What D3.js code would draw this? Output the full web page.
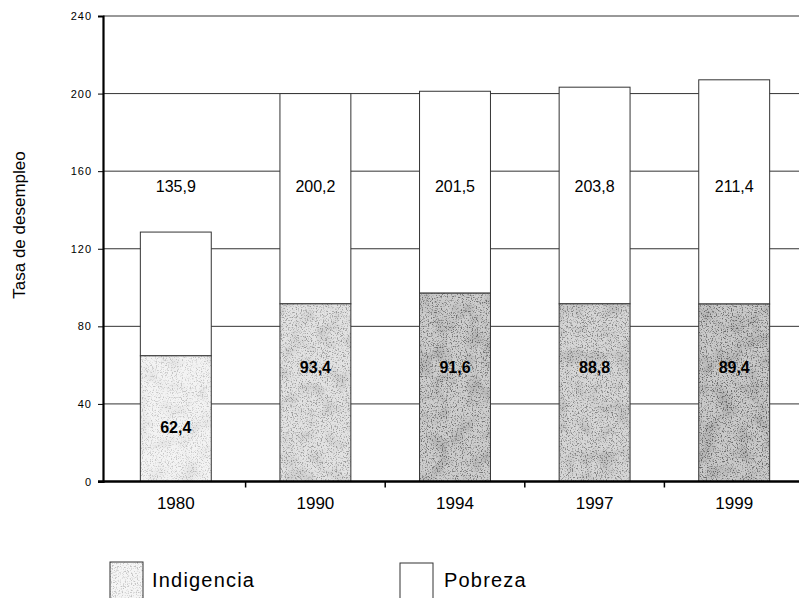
<!DOCTYPE html>
<html>
<head>
<meta charset="utf-8">
<script src="https://cdn.jsdelivr.net/npm/d3@7"></script>
<style>
  html, body { margin: 0; padding: 0; background: #fff; }
  svg { display: block; font-family: "Liberation Sans", Arial, Helvetica, sans-serif; }
</style>
</head>
<body>
<svg id="chart" width="799" height="598"></svg>
<script>
// ---- data ----
const years = ["1980", "1990", "1994", "1997", "1999"];
const indigencia = [64.8, 91.6, 97.1, 91.6, 91.5];      // bar segment heights
const pobreza = [63.8, 108.4, 104.1, 111.7, 115.6];      // upper segment heights
const indigenciaLabels = ["62,4", "93,4", "91,6", "88,8", "89,4"];
const pobrezaLabels = ["135,9", "200,2", "201,5", "203,8", "211,4"];
const yTicks = [0, 40, 80, 120, 160, 200, 240];
const seriesNames = ["Indigencia", "Pobreza"];

// ---- styles ----
const indigBase = ["#f3f3f3", "#e2e2e2", "#cdcdcd", "#d6d6d6", "#c9c9c9"];
const indigDots = [0.35, 0.6, 0.85, 0.75, 0.9];

const svg = d3.select("#chart");
const W = 799;
const axisX = 103, y0px = 481.5, ytop = 16;

const y = d3.scaleLinear().domain([0, 240]).range([y0px, ytop]);
const x = d3.scaleBand().domain(years).range([106, 804]).padding(0);
const barW = x.bandwidth() * 0.508;
const bx = d => x(d) + (x.bandwidth() - barW) / 2;

// defs: stipple filter
const defs = svg.append("defs");
const f = defs.append("filter").attr("id", "stipple")
  .attr("x", 0).attr("y", 0).attr("width", 1).attr("height", 1);
f.append("feTurbulence").attr("type", "fractalNoise").attr("baseFrequency", 0.8)
  .attr("numOctaves", 2).attr("seed", 4).attr("result", "noise");
f.append("feColorMatrix").attr("in", "noise").attr("type", "matrix")
  .attr("values", "0 0 0 0 0  0 0 0 0 0  0 0 0 0 0  5 0 0 0 -2.6").attr("result", "dots");
f.append("feComposite").attr("in", "dots").attr("in2", "SourceGraphic").attr("operator", "in");

const f2 = defs.append("filter").attr("id", "blotch")
  .attr("x", 0).attr("y", 0).attr("width", 1).attr("height", 1);
f2.append("feTurbulence").attr("type", "fractalNoise").attr("baseFrequency", 0.06)
  .attr("numOctaves", 2).attr("seed", 9).attr("result", "noise");
f2.append("feColorMatrix").attr("in", "noise").attr("type", "matrix")
  .attr("values", "0 0 0 0 0  0 0 0 0 0  0 0 0 0 0  2.2 0 0 0 -1.0").attr("result", "b");
f2.append("feComposite").attr("in", "b").attr("in2", "SourceGraphic").attr("operator", "in");

// gridlines
svg.append("g").selectAll("line").data(yTicks.filter(t => t > 0)).join("line")
  .attr("x1", axisX).attr("x2", W)
  .attr("y1", d => y(d)).attr("y2", d => y(d))
  .attr("stroke", "#333").attr("stroke-width", 1);

// stacked data
const rows = years.map((yr, i) => ({ year: yr, Indigencia: indigencia[i], Pobreza: pobreza[i], i }));
const stack = d3.stack().keys(seriesNames)(rows);

const gBars = svg.append("g");
// Pobreza (white)
gBars.selectAll("rect.pob").data(stack[1]).join("rect").attr("class", "pob")
  .attr("x", d => bx(d.data.year)).attr("width", barW)
  .attr("y", d => y(d[1])).attr("height", d => y(d[0]) - y(d[1]))
  .attr("fill", "#fff").attr("stroke", "#333").attr("stroke-width", 1);
// Indigencia base
gBars.selectAll("rect.ind").data(stack[0]).join("rect").attr("class", "ind")
  .attr("x", d => bx(d.data.year)).attr("width", barW)
  .attr("y", d => y(d[1])).attr("height", d => y(d[0]) - y(d[1]))
  .attr("fill", d => indigBase[d.data.i]);
// blotches
gBars.selectAll("rect.blot").data(stack[0]).join("rect").attr("class", "blot")
  .attr("x", d => bx(d.data.year)).attr("width", barW)
  .attr("y", d => y(d[1])).attr("height", d => y(d[0]) - y(d[1]))
  .attr("fill", "#000").attr("opacity", d => indigDots[d.data.i] * 0.18)
  .attr("filter", "url(#blotch)");
// dots
gBars.selectAll("rect.dot").data(stack[0]).join("rect").attr("class", "dot")
  .attr("x", d => bx(d.data.year)).attr("width", barW)
  .attr("y", d => y(d[1])).attr("height", d => y(d[0]) - y(d[1]))
  .attr("fill", "#000").attr("opacity", d => indigDots[d.data.i] * 0.5)
  .attr("filter", "url(#stipple)");
// outline
gBars.selectAll("rect.out").data(stack[0]).join("rect").attr("class", "out")
  .attr("x", d => bx(d.data.year)).attr("width", barW)
  .attr("y", d => y(d[1])).attr("height", d => y(d[0]) - y(d[1]))
  .attr("fill", "none").attr("stroke", "#333").attr("stroke-width", 1);

// value labels
const cx = d => x(d) + x.bandwidth() / 2;
svg.append("g").selectAll("text").data(rows).join("text")
  .attr("x", d => cx(d.year)).attr("y", y(149.4))
  .attr("text-anchor", "middle").attr("font-size", 16).attr("fill", "#000")
  .text(d => pobrezaLabels[d.i]);
svg.append("g").selectAll("text").data(rows).join("text")
  .attr("x", d => cx(d.year)).attr("y", d => y(d.Indigencia < 70 ? 25 : 56))
  .attr("text-anchor", "middle").attr("font-size", 16).attr("font-weight", "bold").attr("fill", "#000")
  .text(d => indigenciaLabels[d.i]);

// y axis
const yAxis = svg.append("g").attr("transform", `translate(${axisX},0)`)
  .call(d3.axisLeft(y).tickValues(yTicks).tickSize(5).tickPadding(6));
yAxis.select(".domain").attr("stroke", "#000").attr("stroke-width", 2.2);
yAxis.selectAll(".tick line").attr("stroke", "#000");
yAxis.selectAll(".tick text").attr("font-size", 11).attr("letter-spacing", 1).attr("fill", "#000")
  .attr("font-family", "'Liberation Sans', Arial, sans-serif");

// x axis
const xAxis = svg.append("g").attr("transform", `translate(0,${y0px})`)
  .call(d3.axisBottom(x).tickSize(0).tickPadding(15));
xAxis.select(".domain").remove();
xAxis.selectAll(".tick text").attr("font-size", 17).attr("fill", "#000")
  .attr("font-family", "'Liberation Sans', Arial, sans-serif");
svg.append("line").attr("x1", axisX - 5).attr("x2", W).attr("y1", y0px).attr("y2", y0px)
  .attr("stroke", "#000").attr("stroke-width", 2.5);
svg.append("g").selectAll("line").data(years.slice(1)).join("line")
  .attr("x1", d => x(d)).attr("x2", d => x(d))
  .attr("y1", y0px).attr("y2", y0px + 6)
  .attr("stroke", "#000").attr("stroke-width", 1.5);

// y title
svg.append("text").attr("transform", "translate(25,225) rotate(-90)")
  .attr("text-anchor", "middle").attr("font-size", 17).attr("fill", "#000")
  .text("Tasa de desempleo");

// legend
const lg = svg.append("g");
lg.append("rect").attr("x", 110).attr("y", 562).attr("width", 33).attr("height", 40)
  .attr("fill", "#f5f5f5").attr("stroke", "#333").attr("stroke-width", 1);
lg.append("rect").attr("x", 110).attr("y", 562).attr("width", 33).attr("height", 40)
  .attr("fill", "#000").attr("opacity", 0.2).attr("filter", "url(#stipple)");
lg.append("text").attr("x", 152).attr("y", 587).attr("font-size", 20).attr("letter-spacing", 1.2)
  .attr("fill", "#000").text(seriesNames[0]);
lg.append("rect").attr("x", 400).attr("y", 563).attr("width", 33).attr("height", 40)
  .attr("fill", "#fff").attr("stroke", "#333").attr("stroke-width", 1);
lg.append("text").attr("x", 444).attr("y", 587).attr("font-size", 20).attr("letter-spacing", 1.2)
  .attr("fill", "#000").text(seriesNames[1]);
</script>
</body>
</html>
